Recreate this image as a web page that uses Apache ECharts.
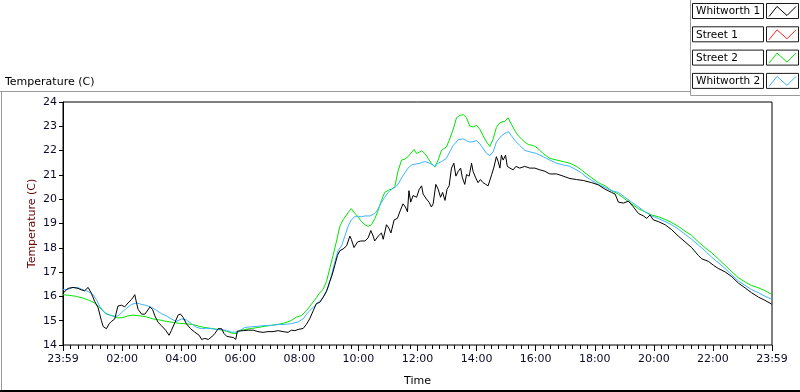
<!DOCTYPE html>
<html>
<head>
<meta charset="utf-8">
<script src="https://cdn.jsdelivr.net/npm/echarts@6/dist/echarts.min.js"></script>
<style>
  html, body { margin: 0; padding: 0; background: #fff; }
  #chart { width: 800px; height: 392px; }
</style>
</head>
<body>
<div id="chart"></div>
<script>
// hours after 23:59 of the previous day (0 = 23:59, 24 = 23:59)
const seriesNames = ['Whitworth 1', 'Street 1', 'Street 2', 'Whitworth 2']
const seriesColors = ['#000000', '#ff2020', '#00e600', '#3cb4ff']

const whitworth1Hours = [0.00, 0.17, 0.34, 0.51, 0.62, 0.73, 0.85, 0.96, 1.07, 1.19, 1.30, 1.36, 1.47, 1.56, 1.64, 1.75, 1.86, 1.98, 2.09, 2.20, 2.32, 2.43, 2.49, 2.54, 2.66, 2.77, 2.85, 2.94, 3.03, 3.11, 3.22, 3.33, 3.48, 3.59, 3.67, 3.79, 3.90, 3.98, 4.07, 4.18, 4.32, 4.46, 4.61, 4.69, 4.80, 4.92, 5.03, 5.14, 5.25, 5.37, 5.45, 5.54, 5.65, 5.76, 5.85, 5.90,
  5.93, 6.10, 6.27, 6.44, 6.60, 6.77, 6.94, 7.11, 7.28, 7.45, 7.62, 7.73, 7.85, 7.96, 8.13, 8.24, 8.35, 8.47, 8.58, 8.69, 8.80, 8.92, 9.03, 9.11, 9.20, 9.29, 9.37, 9.48, 9.60, 9.71, 9.76, 9.85, 9.97, 10.08, 10.22, 10.33, 10.42, 10.50, 10.55, 10.67, 10.78, 10.84, 10.95, 11.03, 11.10, 11.21, 11.32, 11.40, 11.51, 11.59, 11.66, 11.71, 11.77,
  11.85, 11.91, 11.97, 12.06, 12.14, 12.19, 12.25, 12.30, 12.39, 12.47, 12.53, 12.62, 12.70, 12.78, 12.85, 12.93, 13.00, 13.07, 13.15, 13.23, 13.30, 13.38, 13.46, 13.52, 13.60, 13.66, 13.75, 13.83, 13.88, 13.97, 14.05, 14.13, 14.22, 14.31, 14.39, 14.51, 14.58, 14.67, 14.73, 14.79, 14.84, 14.90, 14.98, 15.04, 15.13, 15.24, 15.33, 15.46, 15.63, 15.80, 15.97, 16.14, 16.31, 16.48, 16.71, 16.93, 17.16, 17.38, 17.61,
  17.67, 17.90, 18.12, 18.35, 18.57, 18.69, 18.80, 18.97, 19.14, 19.31, 19.48, 19.65, 19.76, 19.87, 19.98, 20.15, 20.38, 20.60, 20.83, 21.06, 21.28, 21.51, 21.62, 21.85, 22.02, 22.18, 22.41, 22.64, 22.86, 23.09, 23.31, 23.54, 23.76, 23.99]
const whitworth1Temps = [16.13, 16.33, 16.37, 16.33, 16.27, 16.23, 16.37, 16.13, 15.80, 15.53, 15.00, 14.76, 14.67, 14.87, 14.97, 15.07, 15.60, 15.64, 15.57, 15.73, 15.87, 16.07, 15.73, 15.47, 15.27, 15.27, 15.40, 15.56, 15.47, 15.20, 14.93, 14.80, 14.60, 14.40, 14.60, 14.93, 15.24, 15.27, 15.13, 14.87, 14.67, 14.53, 14.40, 14.23, 14.27, 14.23, 14.33, 14.47, 14.67, 14.67, 14.47, 14.36, 14.33, 14.31, 14.23, 14.57,
  14.55, 14.59, 14.61, 14.61, 14.55, 14.52, 14.55, 14.55, 14.59, 14.55, 14.52, 14.61, 14.59, 14.64, 14.68, 14.85, 15.08, 15.41, 15.71, 15.75, 15.95, 16.21, 16.61, 16.88, 17.28, 17.68, 17.88, 17.95, 18.08, 18.48, 18.35, 18.01, 18.24, 18.28, 18.28, 18.41, 18.71, 18.48, 18.28, 18.48, 18.61, 18.35, 18.95, 18.81, 18.61, 19.15, 19.21, 19.48, 19.81, 19.68, 19.48, 20.35, 19.88,
  20.15, 20.21, 20.08, 20.41, 20.55, 20.21, 20.15, 20.01, 19.88, 19.68, 19.81, 20.61, 20.41, 20.08, 20.28, 19.95, 20.41, 20.55, 21.28, 21.48, 20.95, 21.15, 21.28, 20.88, 20.61, 21.01, 20.95, 21.48, 21.15, 20.88, 20.68, 20.81, 20.68, 20.61, 20.55, 21.01, 21.28, 21.75, 21.55, 21.28, 21.81, 21.61, 21.81, 21.35, 21.28, 21.21, 21.35, 21.28, 21.35, 21.28, 21.28, 21.21, 21.15, 21.04, 21.04, 20.95, 20.85, 20.81, 20.77,
  20.77, 20.68, 20.59, 20.41, 20.28, 20.21, 19.88, 19.84, 19.92, 19.68, 19.41, 19.31, 19.21, 19.35, 19.15, 19.08, 18.95, 18.75, 18.48, 18.24, 18.01, 17.68, 17.55, 17.44, 17.28, 17.15, 17.01, 16.81, 16.55, 16.35, 16.15, 15.97, 15.84, 15.68]

const street1Hours = []
const street1Temps = []

const street2Hours = [0.00, 0.23, 0.45, 0.68, 0.90, 1.07, 1.19, 1.30, 1.47, 1.69, 1.86, 2.03, 2.20, 2.37, 2.60, 2.82, 3.05, 3.28, 3.50, 3.73, 3.95, 4.18, 4.41, 4.63, 4.86, 5.08, 5.31, 5.54, 5.71, 5.88,
  5.98, 6.15, 6.38, 6.60, 6.83, 7.06, 7.28, 7.51, 7.73, 7.90, 8.07, 8.24, 8.41, 8.58, 8.69, 8.80, 8.92, 9.03, 9.14, 9.26, 9.37, 9.48, 9.60, 9.67, 9.76, 9.88, 9.99, 10.10, 10.22, 10.33, 10.44, 10.56, 10.67, 10.78, 10.89, 11.01, 11.12, 11.23, 11.34, 11.46, 11.57, 11.68,
  11.74, 11.88, 11.97, 12.14, 12.25, 12.36, 12.47, 12.59, 12.70, 12.81, 12.98, 13.09, 13.21, 13.32, 13.43, 13.55, 13.66, 13.77, 13.88, 14.00, 14.11, 14.22, 14.34, 14.45, 14.56, 14.67, 14.79, 14.96, 15.07, 15.18, 15.30, 15.41, 15.52, 15.63, 15.75, 15.92, 16.09, 16.25, 16.48, 16.71, 16.93, 17.16, 17.38, 17.55,
  17.67, 17.90, 18.12, 18.35, 18.57, 18.80, 19.02, 19.25, 19.48, 19.70, 19.93, 20.15, 20.38, 20.60, 20.83, 21.06, 21.28, 21.51, 21.73, 21.96, 22.18, 22.41, 22.64, 22.86, 23.09, 23.31, 23.54, 23.76, 23.99]
const street2Temps = [16.07, 16.04, 16.00, 15.93, 15.83, 15.73, 15.60, 15.47, 15.27, 15.20, 15.11, 15.13, 15.20, 15.23, 15.20, 15.16, 15.07, 15.03, 14.97, 14.93, 14.89, 14.87, 14.84, 14.76, 14.71, 14.67, 14.63, 14.57, 14.49, 14.47,
  14.59, 14.64, 14.68, 14.72, 14.77, 14.81, 14.85, 14.91, 15.01, 15.15, 15.21, 15.41, 15.68, 15.95, 16.15, 16.28, 16.61, 17.15, 17.68, 18.28, 18.88, 19.15, 19.35, 19.48, 19.61, 19.41, 19.28, 19.08, 18.95, 18.88, 18.95, 19.21, 19.55, 19.95, 20.28, 20.37, 20.41, 20.51, 21.15, 21.61, 21.65, 21.75,
  21.75, 22.05, 21.88, 21.99, 21.88, 21.68, 21.48, 21.32, 21.61, 22.01, 22.15, 22.48, 22.88, 23.35, 23.45, 23.48, 23.35, 23.01, 22.97, 23.04, 22.88, 22.61, 22.35, 22.17, 22.48, 22.95, 23.15, 23.21, 23.35, 23.08, 22.81, 22.61, 22.48, 22.35, 22.25, 22.21, 22.08, 21.88, 21.68, 21.61, 21.55, 21.48, 21.35, 21.21,
  21.08, 20.88, 20.68, 20.55, 20.35, 20.21, 20.01, 19.81, 19.61, 19.48, 19.35, 19.28, 19.17, 19.04, 18.88, 18.68, 18.51, 18.24, 18.01, 17.79, 17.55, 17.28, 17.01, 16.77, 16.59, 16.45, 16.35, 16.24, 16.08]

const whitworth2Hours = [0.00, 0.17, 0.34, 0.51, 0.68, 0.85, 1.02, 1.13, 1.24, 1.41, 1.58, 1.75, 1.86, 1.98, 2.15, 2.32, 2.49, 2.66, 2.82, 2.99, 3.16, 3.33, 3.50, 3.67, 3.84, 4.01, 4.18, 4.35, 4.52, 4.69, 4.86, 5.03, 5.20, 5.37, 5.54, 5.71, 5.88,
  5.98, 6.15, 6.38, 6.60, 6.83, 7.06, 7.28, 7.51, 7.73, 7.96, 8.13, 8.30, 8.47, 8.64, 8.75, 8.86, 8.97, 9.09, 9.20, 9.31, 9.43, 9.54, 9.65, 9.76, 9.88, 9.99, 10.10, 10.22, 10.39, 10.56, 10.67, 10.78, 10.89, 11.01, 11.12, 11.23, 11.34, 11.46, 11.57, 11.68, 11.80,
  11.91, 12.08, 12.25, 12.42, 12.59, 12.70, 12.81, 12.98, 13.09, 13.21, 13.38, 13.55, 13.66, 13.77, 13.88, 14.00, 14.11, 14.22, 14.34, 14.45, 14.56, 14.67, 14.84, 15.01, 15.09, 15.18, 15.30, 15.46, 15.63, 15.80, 16.03, 16.25, 16.48, 16.71, 16.93, 17.16, 17.38, 17.55,
  17.67, 17.90, 18.12, 18.35, 18.57, 18.80, 19.02, 19.25, 19.48, 19.70, 19.93, 20.15, 20.38, 20.60, 20.83, 21.06, 21.28, 21.51, 21.73, 21.96, 22.18, 22.41, 22.64, 22.86, 23.09, 23.31, 23.54, 23.76, 23.99]
const whitworth2Temps = [16.27, 16.29, 16.37, 16.36, 16.27, 16.20, 16.07, 15.87, 15.60, 15.33, 15.23, 15.17, 15.20, 15.33, 15.51, 15.67, 15.73, 15.67, 15.63, 15.56, 15.43, 15.29, 15.20, 15.07, 14.97, 15.07, 15.03, 14.87, 14.73, 14.67, 14.69, 14.67, 14.64, 14.63, 14.60, 14.53, 14.53,
  14.59, 14.72, 14.75, 14.77, 14.80, 14.81, 14.84, 14.85, 14.88, 14.95, 15.08, 15.35, 15.55, 15.75, 15.88, 16.08, 16.35, 16.88, 17.41, 17.88, 18.08, 18.48, 18.88, 19.15, 19.28, 19.28, 19.28, 19.31, 19.31, 19.41, 19.61, 19.88, 20.08, 20.28, 20.41, 20.48, 20.61, 20.88, 21.08, 21.28, 21.41,
  21.44, 21.48, 21.55, 21.48, 21.35, 21.48, 21.55, 21.68, 21.95, 22.21, 22.45, 22.48, 22.41, 22.35, 22.37, 22.41, 22.28, 22.08, 21.88, 21.79, 21.95, 22.35, 22.61, 22.75, 22.77, 22.61, 22.41, 22.21, 22.01, 21.95, 21.88, 21.75, 21.61, 21.48, 21.41, 21.35, 21.21, 21.08,
  20.95, 20.77, 20.61, 20.48, 20.35, 20.28, 20.08, 19.88, 19.68, 19.48, 19.31, 19.21, 19.08, 18.95, 18.77, 18.55, 18.35, 18.11, 17.88, 17.61, 17.39, 17.15, 16.88, 16.64, 16.45, 16.28, 16.15, 16.01, 15.88]

const seriesHours = [whitworth1Hours, street1Hours, street2Hours, whitworth2Hours]
const seriesTemps = [whitworth1Temps, street1Temps, street2Temps, whitworth2Temps]
// draw order: Street 1, Street 2, Whitworth 2, Whitworth 1 on top
const drawOrder = [1, 2, 3, 0]

const FONT = 'DejaVu Sans'

function pad(n) {
  return (n < 10 ? '0' : '') + n
}

function timeLabel(v) {
  if (v === 0 || v === 24) return '23:59'
  return pad(v) + ':00'
}

function buildLegend() {
  const items = []
  seriesNames.forEach((name, i) => {
    const top = 3.5 + i * 23.3
    items.push({
      type: 'rect',
      shape: { x: 692.5, y: top, width: 71, height: 15 },
      style: { fill: '#fff', stroke: '#1a1a1a', lineWidth: 1 }
    })
    items.push({
      type: 'text',
      x: 696, y: top + 8,
      style: { text: name, fill: '#000', font: '10.5px ' + FONT, textVerticalAlign: 'middle' }
    })
    items.push({
      type: 'rect',
      shape: { x: 766.5, y: top, width: 32, height: 15 },
      style: { fill: '#fff', stroke: '#1a1a1a', lineWidth: 1 }
    })
    items.push({
      type: 'polyline',
      shape: { points: [[769, top + 13], [777, top + 3], [787, top + 12], [796, top + 3]] },
      style: { stroke: seriesColors[i], lineWidth: 1, fill: null }
    })
  })
  return items
}

const chart = echarts.init(document.getElementById('chart'), null, { renderer: 'canvas' })

const option = {
  animation: false,
  backgroundColor: '#fff',
  textStyle: { fontFamily: FONT },
  grid: {
    left: 63, top: 102, width: 709, height: 250,
    show: true, borderColor: '#000', borderWidth: 1
  },
  xAxis: {
    type: 'value',
    min: 0, max: 24, interval: 2,
    name: 'Time',
    nameLocation: 'middle',
    nameGap: 31,
    nameMoveOverlap: false,
    nameTextStyle: { color: '#000', fontSize: 11, fontFamily: FONT },
    axisLine: { lineStyle: { color: '#7a7a7a', width: 1 } },
    axisTick: { interval: 0, length: 6, lineStyle: { color: '#000' } },
    minorTick: { show: true, splitNumber: 8, length: 4, lineStyle: { color: '#000' } },
    axisLabel: { interval: 0, formatter: timeLabel, color: '#0a0a28', fontSize: 11, margin: 9, fontFamily: FONT },
    splitLine: { show: false }
  },
  yAxis: {
    type: 'value',
    min: 14, max: 24, interval: 1,
    name: 'Temperature (C)',
    nameLocation: 'middle',
    nameGap: 25,
    nameMoveOverlap: false,
    nameTextStyle: { color: '#6b0000', fontSize: 11, fontFamily: FONT },
    axisLine: { show: true, lineStyle: { color: '#000', width: 1 } },
    axisTick: { show: true, length: 4, lineStyle: { color: '#000' } },
    axisLabel: { color: '#0a0a28', fontSize: 11, margin: 6, fontFamily: FONT },
    splitLine: { show: false }
  },
  series: drawOrder.map(i => ({
    name: seriesNames[i],
    type: 'line',
    data: seriesHours[i].map((h, k) => [h, seriesTemps[i][k]]),
    showSymbol: false,
    symbol: 'none',
    lineStyle: { color: seriesColors[i], width: 1 },
    z: 2 + drawOrder.indexOf(i)
  })),
  graphic: [
    { type: 'line', shape: { x1: 0, y1: 91.5, x2: 690, y2: 91.5 }, style: { stroke: '#9a9a9a', lineWidth: 1 } },
    { type: 'line', shape: { x1: 1.5, y1: 91.5, x2: 1.5, y2: 391 }, style: { stroke: '#9a9a9a', lineWidth: 1 } },
    { type: 'line', shape: { x1: 0, y1: 391, x2: 800, y2: 391 }, style: { stroke: '#000', lineWidth: 2 } },
    { type: 'line', shape: { x1: 690.5, y1: 0, x2: 690.5, y2: 95.5 }, style: { stroke: '#9a9a9a', lineWidth: 1 } },
    { type: 'line', shape: { x1: 690.5, y1: 95.5, x2: 800, y2: 95.5 }, style: { stroke: '#9a9a9a', lineWidth: 1 } },
    {
      type: 'text', x: 5, y: 82,
      style: { text: 'Temperature (C)', fill: '#000', font: '11px ' + FONT, textVerticalAlign: 'middle' }
    },
    ...buildLegend()
  ]
}

chart.setOption(option)
</script>
</body>
</html>
